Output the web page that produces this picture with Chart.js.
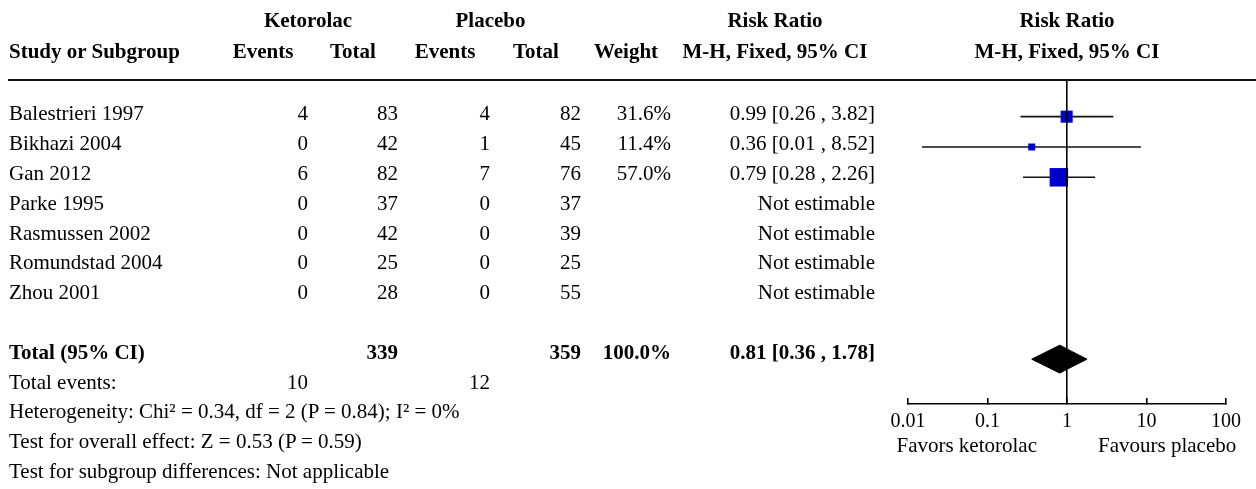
<!DOCTYPE html>
<html><head><meta charset="utf-8">
<script src="https://cdn.jsdelivr.net/npm/chart.js@4.4.1/dist/chart.umd.min.js"></script>
<style>
html,body{margin:0;padding:0;background:#fff;}
#wrap{position:relative;width:1256px;height:489px;overflow:hidden;font-family:"Liberation Serif","Times New Roman",serif;color:#000;}
#c{position:absolute;left:0;top:0;}
#txt{position:absolute;left:0;top:0;width:1256px;height:489px;pointer-events:none;}
.t{position:absolute;white-space:nowrap;font-size:21px;line-height:21px;}
.b{font-weight:bold;}
#rule{position:absolute;left:8px;right:0;top:79px;height:2px;background:#111;}
</style></head><body>
<div id="wrap"><canvas id="c" width="1256" height="489"></canvas><div id="rule"></div><div id="txt"></div></div>
<script>
// ---- data ----
const studies   = ['Balestrieri 1997','Bikhazi 2004','Gan 2012','Parke 1995','Rasmussen 2002','Romundstad 2004','Zhou 2001'];
const ketEvents = [4, 0, 6, 0, 0, 0, 0];
const ketTotal  = [83, 42, 82, 37, 42, 25, 28];
const plaEvents = [4, 1, 7, 0, 0, 0, 0];
const plaTotal  = [82, 45, 76, 37, 39, 25, 55];
const weights   = [31.6, 11.4, 57.0, null, null, null, null];
const riskRatio = [0.99, 0.36, 0.79, null, null, null, null];
const ciLow     = [0.26, 0.015, 0.28, null, null, null, null];
const ciHigh    = [3.82, 8.52, 2.26, null, null, null, null];
const totalRR   = [0.81];
const totalLow  = [0.36];
const totalHigh = [1.78];
const tickValues = [0.01, 0.1, 1, 10, 100];
const tickLabels = ['0.01', '0.1', '1', '10', '100'];
const footer = [
  'Heterogeneity: Chi\u00b2 = 0.34, df = 2 (P = 0.84); I\u00b2 = 0%',
  'Test for overall effect: Z = 0.53 (P = 0.59)',
  'Test for subgroup differences: Not applicable'
];
const favLeft = 'Favors ketorolac';
const favRight = 'Favours placebo';

// ---- layout / style constants ----
const FONT = '"Liberation Serif","Times New Roman",serif';
const FS = 21;
const ASC = 0.8375 * FS;
const TEXT_TOP = 121, TEXT_STEP = 29.8;
const COL = { name: 9, ketEv: 308, ketTot: 398, plaEv: 490, plaTot: 581, weight: 671, rr: 875 };
const HDR_SHIFT = 45;
const totalRow = studies.length + 1;
const DIAMOND_H = 0.46;
const sideFor = w => 4.1 + 0.252 * w;

const sum = a => a.reduce((s, v) => s + (v || 0), 0);
const est = studies.map((_, i) => i).filter(i => riskRatio[i] != null);

const datasets = [];
datasets.push({
  data: est.map(i => ({ x: riskRatio[i], y: i })),
  pointStyle: 'rect',
  pointRadius: est.map(i => sideFor(weights[i]) / Math.SQRT2),
  backgroundColor: '#0000cc', borderWidth: 0, order: 0
});
est.forEach(i => datasets.push({
  data: [{ x: ciLow[i], y: i }, { x: ciHigh[i], y: i }],
  showLine: true, borderColor: '#111', borderWidth: 1.6, pointRadius: 0, order: 1
}));
datasets.push({
  data: [
    { x: totalLow[0], y: totalRow },
    { x: totalRR[0], y: totalRow - DIAMOND_H },
    { x: totalHigh[0], y: totalRow },
    { x: totalRR[0], y: totalRow + DIAMOND_H },
    { x: totalLow[0], y: totalRow }
  ],
  showLine: true, fill: 'shape', backgroundColor: '#000', borderColor: '#000',
  borderWidth: 1, pointRadius: 0, order: 2
});

const chart = new Chart(document.getElementById('c'), {
  type: 'scatter',
  data: { datasets },
  options: {
    responsive: false, animation: false, devicePixelRatio: 1, events: [],
    layout: { padding: { left: 908, right: 30, top: 80, bottom: 0 } },
    plugins: { legend: { display: false }, tooltip: { enabled: false } },
    scales: {
      x: {
        type: 'logarithmic', position: 'bottom', min: 0.01, max: 100,
        afterBuildTicks: s => { s.ticks = tickValues.map(v => ({ value: v })); },
        afterFit: s => { s.height = 85; },
        ticks: {
          callback: (v, i) => tickLabels[i], color: '#000', padding: 12,
          maxRotation: 0, autoSkip: false, font: { family: FONT, size: 20 }
        },
        grid: {
          z: 1, drawOnChartArea: true,
          color: c => (c.tick && c.tick.value === 1) ? '#000' : 'rgba(0,0,0,0)',
          lineWidth: 1.6, tickLength: -6, tickColor: '#000', tickWidth: 1.6
        },
        border: { display: true, color: '#000', width: 1.6, z: 1 }
      },
      y: { type: 'linear', display: false, reverse: true, min: -1.21, max: 9.48 }
    }
  }
});

// ---- table text (real DOM text) ----
const txt = document.getElementById('txt');
function put(text, x, base, align, bold) {
  const el = document.createElement('div');
  el.className = 't' + (bold ? ' b' : '');
  el.textContent = text;
  el.style.top = (base - ASC) + 'px';
  el.style.left = x + 'px';
  if (align === 'right') el.style.transform = 'translateX(-100%)';
  else if (align === 'center') el.style.transform = 'translateX(-50%)';
  txt.appendChild(el);
}
const xs = chart.scales.x;
const rowBase = r => TEXT_TOP + TEXT_STEP * r;
const fmt = v => v.toFixed(2);
const xOne = xs.getPixelForValue(1);

// headers
put('Ketorolac', (COL.ketEv + COL.ketTot) / 2 - HDR_SHIFT, 28, 'center', true);
put('Placebo', (COL.plaEv + COL.plaTot) / 2 - HDR_SHIFT, 28, 'center', true);
put('Risk Ratio', 775, 28, 'center', true);
put('Risk Ratio', xOne, 28, 'center', true);
put('Study or Subgroup', COL.name, 59, 'left', true);
put('Events', COL.ketEv - HDR_SHIFT, 59, 'center', true);
put('Total', COL.ketTot - HDR_SHIFT, 59, 'center', true);
put('Events', COL.plaEv - HDR_SHIFT, 59, 'center', true);
put('Total', COL.plaTot - HDR_SHIFT, 59, 'center', true);
put('Weight', COL.weight - HDR_SHIFT, 59, 'center', true);
put('M-H, Fixed, 95% CI', 775, 59, 'center', true);
put('M-H, Fixed, 95% CI', xOne, 59, 'center', true);

// study rows
studies.forEach((s, i) => {
  const b = rowBase(i);
  put(s, COL.name, b, 'left');
  put(String(ketEvents[i]), COL.ketEv, b, 'right');
  put(String(ketTotal[i]), COL.ketTot, b, 'right');
  put(String(plaEvents[i]), COL.plaEv, b, 'right');
  put(String(plaTotal[i]), COL.plaTot, b, 'right');
  if (weights[i] != null) put(weights[i].toFixed(1) + '%', COL.weight, b, 'right');
  put(riskRatio[i] != null ? `${fmt(riskRatio[i])} [${fmt(ciLow[i])} , ${fmt(ciHigh[i])}]` : 'Not estimable', COL.rr, b, 'right');
});

// total rows
let b = rowBase(totalRow);
put('Total (95% CI)', COL.name, b, 'left', true);
put(String(sum(ketTotal)), COL.ketTot, b, 'right', true);
put(String(sum(plaTotal)), COL.plaTot, b, 'right', true);
put(sum(weights).toFixed(1) + '%', COL.weight, b, 'right', true);
put(`${fmt(totalRR[0])} [${fmt(totalLow[0])} , ${fmt(totalHigh[0])}]`, COL.rr, b, 'right', true);
b = rowBase(totalRow + 1);
put('Total events:', COL.name, b, 'left');
put(String(sum(ketEvents)), COL.ketEv, b, 'right');
put(String(sum(plaEvents)), COL.plaEv, b, 'right');
footer.forEach((f, k) => put(f, COL.name, rowBase(totalRow + 2 + k), 'left'));

// favours labels under the axis
put(favLeft, xOne - 30, 453, 'right');
put(favRight, xOne + 31, 453, 'left');
</script>
</body></html>
